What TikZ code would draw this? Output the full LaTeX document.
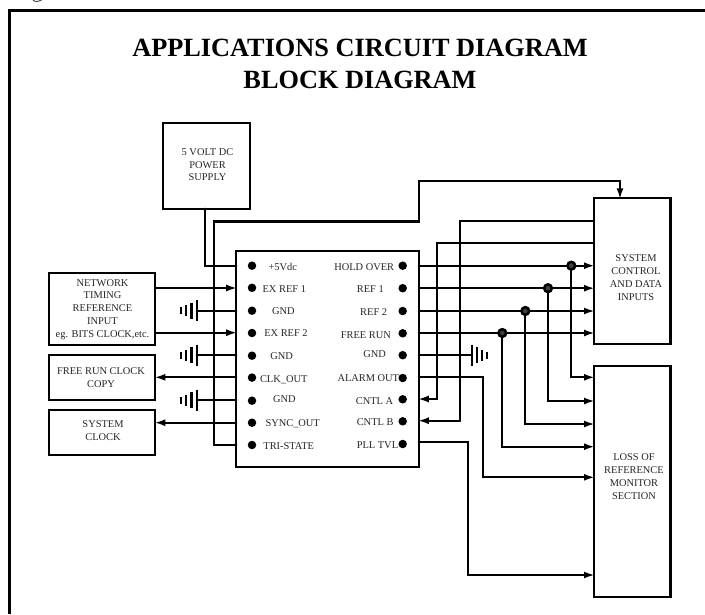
\documentclass[tikz,border=0pt]{standalone}
\usepackage{fontspec}
\setmainfont{Liberation Serif}
\usetikzlibrary{arrows.meta}
\tikzset{
  x=1pt,y=-1pt,
  wire/.style={line width=2.2pt,line cap=round,line join=miter},
  arr/.style={wire,shorten >=-1pt,-{Latex[length=11pt,width=7pt]}},
  bx/.style={draw,line width=2.2pt,rectangle,inner sep=0pt,outer sep=0pt},
  txt/.style={align=center,inner sep=0pt,font=\fontsize{10.4}{12.9}\selectfont,text=black!85},
  lab/.style={txt,anchor=base},
  labr/.style={txt,anchor=base east},
  pin/.style={circle,fill=black,inner sep=0pt,minimum size=8.5pt},
  junc/.style={circle,draw=black,fill=black!75,line width=2.4pt,inner sep=0pt,minimum size=7.5pt},
  bar/.style={line width=2.2pt},
  ttl/.style={font=\fontsize{26.3}{32}\selectfont\bfseries,align=center,inner sep=0pt,anchor=base}
}
\newcommand{\gndL}[2]{% #1 name of the wire end coordinate, #2 y
  \draw[bar] (196.7,#2-10.5) -- (196.7,#2+10.5);
  \draw[bar] (191.5,#2-8) -- (191.5,#2+8);
  \draw[bar] (186,#2-5.5) -- (186,#2+5.5);
  \draw[bar] (181,#2-3.5) -- (181,#2+3.5);
}
\begin{document}
\begin{tikzpicture}
\useasboundingbox (0,0) rectangle (705,614);
\fill[white] (0,0) rectangle (705,614);
% frame and the trace of the cropped line above it
\draw[line width=2.6pt] (705,10.5) -- (9.5,10.5) -- (9.5,614);
\draw[line width=1pt,black!70] (33,0.2) .. controls (35,2) and (39,2) .. (41.5,0.2);
% title
\node[ttl] (t1) at (360,56.5) {APPLICATIONS CIRCUIT DIAGRAM};
\node[ttl] (t2) at (360,88.5) {BLOCK DIAGRAM};
% boxes
\node[bx,minimum width=87pt,minimum height=85.4pt] (power) at (206.8,166) {};
\node[bx,minimum width=106.6pt,minimum height=71.4pt] (net) at (102,309) {};
\node[bx,minimum width=106.6pt,minimum height=45pt] (free) at (102,377.5) {};
\node[bx,minimum width=106.6pt,minimum height=45.3pt] (sclk) at (102,432.3) {};
\node[bx,minimum width=182.7pt,minimum height=216pt] (chip) at (327.5,359) {};
\node[bx,minimum width=76.5pt,minimum height=145.7pt] (ctl) at (632.2,271.2) {};
\node[bx,minimum width=76.5pt,minimum height=231.3pt] (los) at (632.2,481.7) {};
% box texts
\node[txt] (tp) at (207.5,164.7) {5 VOLT DC\\POWER\\SUPPLY};
\node[txt] (tn) at (102.5,309.5) {NETWORK\\TIMING\\REFERENCE\\INPUT\\eg. BITS CLOCK,etc.};
\node[txt] (tf) at (101,377.5) {FREE RUN CLOCK\\COPY};
\node[txt] (ts) at (103,430.8) {SYSTEM\\CLOCK};
\node[txt] (tc) at (636,277.7) {SYSTEM\\CONTROL\\AND DATA\\INPUTS};
\node[txt] (tl) at (634,476.7) {LOSS OF\\REFERENCE\\MONITOR\\SECTION};
% left pin dots
\foreach \n/\y in {a/265.7,b/287.8,c/310.7,d/333,e/355.7,f/377.6,g/400.7,h/422.7,i/445}{
  \node[pin] (L\n) at (252,\y) {};
}
% right pin dots
\foreach \n/\y in {a/265.7,b/288.2,c/311,d/333.3,e/355.2,f/378,g/399.3,h/421.3,i/444}{
  \node[pin] (R\n) at (402.7,\y) {};
}
% left pin labels
\node[lab] (l1) at (282.7,270.3) {+5Vdc};
\node[lab] (l2) at (284.3,292.2) {EX REF 1};
\node[lab] (l3) at (283.3,314.6) {GND};
\node[lab] (l4) at (286,336.6) {EX REF 2};
\node[lab] (l5) at (281.7,359.3) {GND};
\node[lab] (l6) at (283.7,382.3) {CLK\_OUT};
\node[lab] (l7) at (284.3,402.3) {GND};
\node[lab] (l8) at (292.7,426.3) {SYNC\_OUT};
\node[lab] (l9) at (288.7,449.3) {TRI-STATE};
% right pin labels
\node[labr] (r1) at (394.3,270.9) {HOLD OVER};
\node[labr] (r2) at (384,292.9) {REF 1};
\node[labr] (r3) at (387.3,315.9) {REF 2};
\node[labr] (r4) at (391,338.9) {FREE RUN};
\node[labr] (r5) at (386,357.9) {GND};
\node[labr] (r6) at (399.3,381.9) {ALARM OUT};
\node[labr] (r7) at (393.3,404.3) {CNTL A};
\node[labr] (r8) at (393.7,425.3) {CNTL B};
\node[labr] (r9) at (398.3,448.9) {PLL TVL};
% named wire points
\coordinate (ctop) at (620,198.3);
\foreach \n/\y in {a/265.7,b/288.2,c/311,d/333}{
  \coordinate (CI\n) at (594,\y);
  \coordinate (CO\n) at (418.8,\y);
}
\coordinate (Gr) at (418.8,355);
\coordinate (Ggnd) at (472,355);
\coordinate (Ala) at (418.8,376.7);
\coordinate (Ca) at (418.8,399);
\coordinate (Cb) at (418.8,420.7);
\coordinate (Pll) at (418.8,442.3);
% power and tri-state
\draw[wire] (205.3,208.7) |- (236.2,265.7);
\draw[wire] (236.2,445) -| (214,221.5) -- (418.7,221.5) -- (418.7,181) -- (620,181);
\draw[arr] (620,181) -- (ctop);
% left signals
\draw[arr] (155.3,288) -- (236.2,288);
\draw[arr] (155.3,332.7) -- (236.2,332.7);
\draw[arr] (236.2,377.3) -- (155.3,377.3);
\draw[arr] (236.2,422.7) -- (155.3,422.7);
% left grounds
\draw[wire] (196.7,310.7) -- (236.2,310.7);
\draw[wire] (196.7,355) -- (236.2,355);
\draw[wire] (196.7,400) -- (236.2,400);
\gndL{a}{310.7}
\gndL{b}{355}
\gndL{c}{400}
% right signals
\draw[arr] (COa) -- (CIa);
\draw[arr] (COb) -- (CIb);
\draw[arr] (COc) -- (CIc);
\draw[arr] (COd) -- (CId);
\node[junc] (j1) at (571.3,265.7) {};
\node[junc] (j2) at (548,288.2) {};
\node[junc] (j3) at (525.3,311) {};
\node[junc] (j4) at (502.3,333) {};
\draw[arr] (j1.center) |- (594,377.3);
\draw[arr] (j2.center) |- (594,401);
\draw[arr] (j3.center) |- (594,424);
\draw[arr] (j4.center) |- (594,446.7);
\node[junc] at (j1) {};
\node[junc] at (j2) {};
\node[junc] at (j3) {};
\node[junc] at (j4) {};
% control returns
\draw[wire] (594,243.3) -- (437,243.3) -- (437,399);
\draw[arr] (437,399) -- (Ca);
\draw[wire] (594,221.3) -- (460,221.3) -- (460,420.7);
\draw[arr] (460,420.7) -- (Cb);
% right ground
\draw[wire] (Gr) -- (Ggnd);
\draw[bar] (472,344.5) -- (472,365.5);
\draw[bar] (476.8,347) -- (476.8,363);
\draw[bar] (481.8,349.5) -- (481.8,360.5);
\draw[bar] (487,351.5) -- (487,358.5);
% alarm and PLL
\draw[wire] (Ala) -| (483.3,477.3);
\draw[arr] (483.3,477.3) -- (594,477.3);
\draw[wire] (Pll) -| (468,575);
\draw[arr] (468,575) -- (594,575);
\end{tikzpicture}
\end{document}
